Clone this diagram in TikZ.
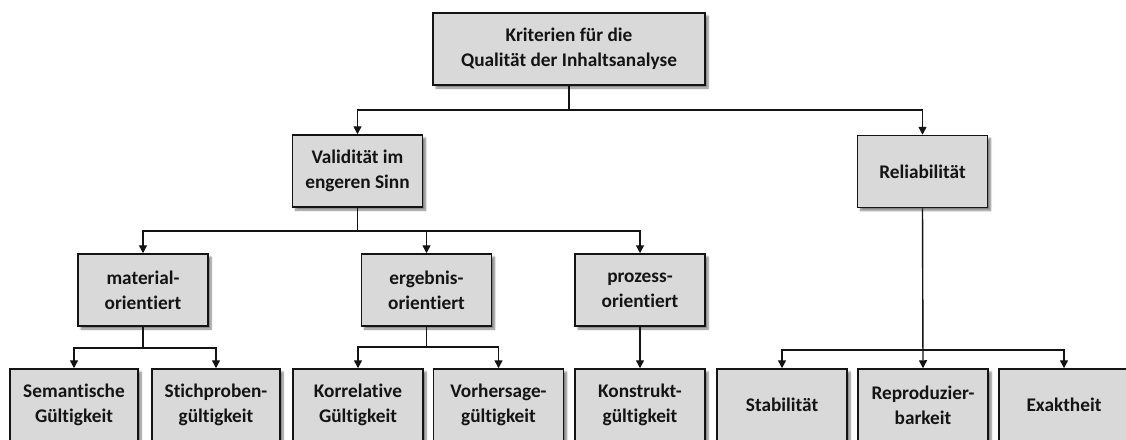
\documentclass[tikz,border=0pt]{standalone}
\usepackage{fontspec}
\setmainfont{Carlito}[Ligatures=NoCommon]
\usetikzlibrary{arrows.meta,shadows.blur}
\definecolor{boxfill}{HTML}{D9D9D9}
\definecolor{ink}{HTML}{141414}
\begin{document}
\begin{tikzpicture}[x=1pt,y=-1pt,
  box/.style={draw=ink, line width=1.5pt, fill=boxfill, align=center,
    text=ink, font=\fontsize{19.3}{25}\selectfont\bfseries,
    minimum height=72pt, inner sep=2pt,
    blur shadow={shadow xshift=3pt, shadow yshift=-3pt, shadow blur steps=6, shadow opacity=50}},
  wbox/.style={box, minimum width=130pt},
  conn/.style={draw=ink, line width=1.4pt, -{Triangle[width=8pt,length=8pt]}},
  plain/.style={draw=ink, line width=1.4pt}]
\useasboundingbox (0,0) rectangle (1126,439);

% top level
\node[box, minimum width=272pt] (top) at (569,49) {Kriterien für die\\Qualität der Inhaltsanalyse};

% second level
\node[wbox] (val) at (357.5,171) {Validität im\\engeren Sinn};
\node[wbox] (rel) at (922.5,171.5) {Reliabilität};

% third level
\node[wbox] (mat) at (143,290) {material-\\orientiert};
\node[wbox] (erg) at (426.5,290) {ergebnis-\\orientiert};
\node[wbox] (pro) at (640,290) {prozess-\\orientiert};

% leaves
\node[wbox, minimum width=128pt] (sem) at (74,405) {Semantische\\Gültigkeit};
\node[wbox, minimum width=128pt] (sti) at (216,405) {Stichproben-\\gültigkeit};
\node[wbox] (kor) at (358,405) {Korrelative\\Gültigkeit};
\node[wbox] (vor) at (498.5,405) {Vorhersage-\\gültigkeit};
\node[wbox] (kon) at (640,405) {Konstrukt-\\gültigkeit};
\node[wbox] (sta) at (782,405) {Stabilität};
\node[wbox] (rep) at (923,405) {Reproduzier-\\barkeit};
\node[wbox] (exa) at (1064,405) {Exaktheit};

% junction points of the branch lines
\coordinate (j0) at (569,110);
\coordinate (j1) at (357.5,231);
\coordinate (j2) at (143,348);
\coordinate (j3) at (426.5,347);
\coordinate (j4) at (922.5,350);

% connectors
\draw[plain] (top.south) -- (j0);
\draw[conn] (j0) -| (val.north);
\draw[conn] (j0) -| (rel.north);

\draw[plain] (val.south) -- (j1);
\draw[conn] (j1) -| (mat.north);
\draw[conn] (j1) -| (erg.north);
\draw[conn] (j1) -| (pro.north);

\draw[plain] (mat.south) -- (j2);
\draw[conn] (j2) -| (sem.north);
\draw[conn] (j2) -| (sti.north);

\draw[plain] (erg.south) -- (j3);
\draw[conn] (j3) -| (kor.north);
\draw[conn] (j3) -| (vor.north);

\draw[conn] (pro.south) -- (kon.north);

\draw[conn] (rel.south) -- (rep.north);
\draw[conn] (j4) -| (sta.north);
\draw[conn] (j4) -| (exa.north);
\end{tikzpicture}
\end{document}
